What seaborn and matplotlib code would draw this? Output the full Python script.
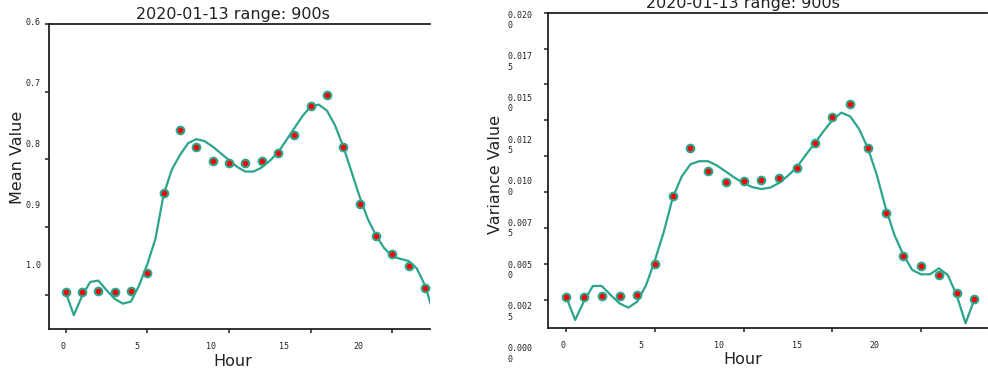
import matplotlib

matplotlib.use("Agg")
import matplotlib.pyplot as plt
import seaborn as sns

# ---- data ------------------------------------------------------------------
title = "2020-01-13 range: 900s"

hours = [0, 1, 2, 3, 4, 5, 6, 7, 8, 9, 10, 11,
         12, 13, 14, 15, 16, 17, 18, 19, 20, 21, 22, 23]

mean_points = [0.996, 0.996, 0.994, 0.996, 0.994, 0.968, 0.849, 0.757,
               0.782, 0.802, 0.806, 0.805, 0.803, 0.790, 0.764, 0.721,
               0.705, 0.782, 0.866, 0.913, 0.939, 0.958, 0.990, 1.040]

var_points = [0.00020, 0.00022, 0.00029, 0.00025, 0.00032, 0.00250,
              0.00721, 0.01060, 0.00898, 0.00823, 0.00828, 0.00835,
              0.00851, 0.00921, 0.01095, 0.01276, 0.01366, 0.01056,
              0.00603, 0.00306, 0.00238, 0.00171, 0.00046, 0.00004]

# smoothed curve, read every half hour
curve_hours = [0, 0.5, 1, 1.5, 2, 2.5, 3, 3.5, 4, 4.5, 5, 5.5,
               6, 6.5, 7, 7.5, 8, 8.5, 9, 9.5, 10, 10.5, 11, 11.5,
               12, 12.5, 13, 13.5, 14, 14.5, 15, 15.5, 16, 16.5, 17, 17.5,
               18, 18.5, 19, 19.5, 20, 20.5, 21, 21.5, 22, 22.5, 23]

mean_curve = [0.996, 1.030, 1.002, 0.981, 0.979, 0.993, 1.006, 1.013,
              1.010, 0.986, 0.955, 0.917, 0.852, 0.815, 0.7935, 0.776,
              0.770, 0.773, 0.781, 0.791, 0.801, 0.811, 0.818, 0.818,
              0.812, 0.802, 0.790, 0.772, 0.754, 0.736, 0.722, 0.719,
              0.728, 0.750, 0.781, 0.818, 0.855, 0.888, 0.912, 0.931,
              0.943, 0.947, 0.950, 0.961, 0.986, 1.025, 1.060]

var_curve = [0.00020, -0.00140, -0.00008, 0.00097, 0.00097, 0.00034,
             -0.00024, -0.00054, -0.00012, 0.00104, 0.00278, 0.00475,
             0.00712, 0.00858, 0.00945, 0.00966, 0.00966, 0.00935,
             0.00893, 0.00850, 0.00812, 0.00785, 0.00772, 0.00782,
             0.00815, 0.00866, 0.00925, 0.01010, 0.01090, 0.01175,
             0.01253, 0.01304, 0.01278, 0.01190, 0.01056, 0.00870,
             0.00640, 0.00450, 0.00313, 0.00208, 0.00178, 0.00178,
             0.00220, 0.00173, 0.00034, -0.00163, 0.00004]

hour_ticks = [0, 5, 10, 15, 20]
hour_ticklabels = ["0", "5", "10", "15", "20"]

mean_ticks = [0.6, 0.7, 0.8, 0.9, 1.0]
mean_ticklabels = ["0.6", "0.7", "0.8", "0.9", "1.0"]

var_ticks = [0.02, 0.0175, 0.015, 0.0125, 0.01, 0.0075, 0.005, 0.0025, 0.0]
var_ticklabels = ["0.020\n0", "0.017\n5", "0.015\n0", "0.012\n5", "0.010\n0",
                  "0.007\n5", "0.005\n0", "0.002\n5", "0.000\n0"]

# ---- styling ---------------------------------------------------------------
sns.set_style("white")
plt.rcParams["font.family"] = ["DejaVu Sans"]

teal = "#2ca58d"
dark = "#222222"
W, H = 988, 370


def px_rect(x0, y0, x1, y1):
    return [x0 / W, 1 - y1 / H, (x1 - x0) / W, (y1 - y0) / H]


def draw_panel(fig, rect, xs, ys, cx, cy, xlim, ylim, yticks):
    ax = fig.add_axes(rect)
    sns.lineplot(x=cx, y=cy, ax=ax, color=teal, linewidth=1.6, zorder=2)
    sns.scatterplot(x=xs, y=ys, ax=ax, color="red", edgecolor=teal,
                    s=30, linewidth=1.5, zorder=3)
    ax.set_xlim(*xlim)
    ax.set_ylim(*ylim)
    ax.set_xticks(hour_ticks)
    ax.set_yticks(yticks)
    ax.tick_params(which="major", direction="out", length=3, width=1.1,
                   color=dark, labelbottom=False, labelleft=False,
                   bottom=True, left=True)
    ax.spines["right"].set_visible(False)
    for s in ["left", "bottom", "top"]:
        ax.spines[s].set_color(dark)
        ax.spines[s].set_linewidth(1.3)
    return ax


def tick_text_x(ax, xlim, pad):
    tw = ax.twiny()
    tw.xaxis.set_ticks_position("bottom")
    tw.set_xlim(*xlim)
    tw.set_xticks(hour_ticks, hour_ticklabels)
    tw.tick_params(axis="x", length=0, pad=pad, labelsize=6,
                   labelfontfamily="DejaVu Sans Mono", labelcolor=dark)
    for s in tw.spines.values():
        s.set_visible(False)
    return tw


def tick_text_y(fig, rect, ylim, ticks, labels):
    lab = fig.add_axes(rect)
    lab.set_frame_on(False)
    lab.set_xticks([])
    lab.set_ylim(*ylim)
    lab.set_yticks(ticks, labels)
    lab.tick_params(axis="y", length=0, pad=1, labelsize=6,
                    labelfontfamily="DejaVu Sans Mono", labelcolor=dark)
    for t in lab.get_yticklabels():
        t.set_multialignment("left")
        t.set_verticalalignment("center")
    return lab


fig = plt.figure(figsize=(W / 100, H / 100), dpi=100)

# left panel: mean value, inverted axis
ax1 = draw_panel(fig, px_rect(49, 24, 430, 329), hours, mean_points,
                 curve_hours, mean_curve, (-1.02, 22.31), (1.0505, 0.6),
                 mean_ticks)
tick_text_x(ax1, (-0.949, 24.88), 9.3)
tick_text_y(fig, px_rect(42, 0, 60, 370), (1.1711, 0.5625),
            mean_ticks, mean_ticklabels)
ax1.set_title(title, fontsize=11.5, pad=3.4, color=dark)
ax1.title.set_x(0.483)
ax1.set_xlabel("Hour", fontsize=11.5, color=dark)
ax1.xaxis.set_label_coords(0.483, -0.082)
ax1.set_ylabel("Mean Value", fontsize=11.5, color=dark)
ax1.yaxis.set_label_coords(-0.063, 0.562)

# right panel: variance value
ax2 = draw_panel(fig, px_rect(548, 12.7, 987, 328), hours, var_points,
                 curve_hours, var_curve, (-1.03, 23.71), (-0.001957, 0.02),
                 var_ticks)
tick_text_x(ax2, (-0.984, 27.25), 9.3)
tick_text_y(fig, px_rect(534, 0, 550, 370), (-0.000970, 0.021217),
            var_ticks, var_ticklabels)
ax2.set_title(title, fontsize=11.5, pad=3.2, color=dark)
ax2.title.set_x(0.444)
ax2.set_xlabel("Hour", fontsize=11.5, color=dark)
ax2.xaxis.set_label_coords(0.444, -0.076)
ax2.set_ylabel("Variance Value", fontsize=11.5, color=dark)
ax2.yaxis.set_label_coords(-0.1025, 0.488)

fig.savefig("out.png", dpi=100)
